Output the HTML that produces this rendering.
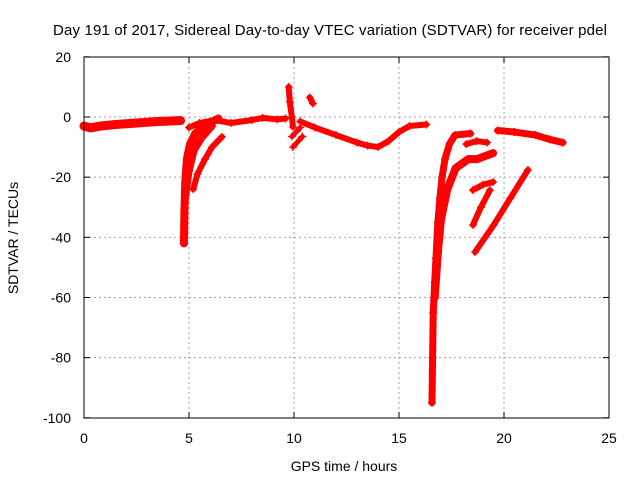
<!DOCTYPE html>
<html><head><meta charset="utf-8"><style>
body{margin:0;background:#fff}
svg{display:block;font-family:"Liberation Sans",sans-serif}
</style></head><body>
<svg id="c" width="640" height="480">
<rect width="640" height="480" fill="#fff"/>
<text x="330" y="35" font-size="15" text-anchor="middle" textLength="554">Day 191 of 2017, Sidereal Day-to-day VTEC variation (SDTVAR) for receiver pdel</text>
<text x="344" y="471" font-size="14" text-anchor="middle">GPS time / hours</text>
<text transform="translate(18,238) rotate(-90)" font-size="14" text-anchor="middle">SDTVAR / TECUs</text>
<g id="grid"></g><g id="marks"></g>
<rect x="84" y="57" width="525" height="361" fill="none" stroke="#000" stroke-width="1"/>
</svg>
<script>
const xTicks=[0,5,10,15,20,25];
const yTicks=[20,0,-20,-40,-60,-80,-100];
const trackBase1=[[0,-3],[0.3,-3.6],[0.8,-3],[1.5,-2.5],[2.5,-2],[3.5,-1.5],[4.6,-1.2]];
const trackBase2=[[5.0,-3.5],[5.5,-2],[6.2,-1],[7,-2],[8,-1],[8.5,-0.3],[9.2,-0.8],[9.6,-0.5]];
const trackDip1=[[4.76,-42],[4.78,-32],[4.82,-22],[4.9,-14],[5.05,-9],[5.3,-5.5],[5.7,-3],[6.4,-0.5]];
const trackDip1b=[[4.85,-26],[5.0,-18],[5.25,-11],[5.6,-7],[6.1,-3]];
const trackDip2=[[5.2,-24],[5.4,-19],[5.76,-14],[6.1,-10],[6.57,-6.6]];
const trackSpike=[[9.75,10],[9.8,5],[9.9,0],[9.95,-3.3]];
const trackSpikeA=[[9.9,-6.5],[10.3,-3.5]];
const trackSpikeB=[[9.95,-10],[10.4,-6.5]];
const trackBlob=[[10.75,6.5],[10.9,4.5]];
const trackMid=[[10.3,-1.5],[11,-3.5],[12,-6],[13,-8.5],[13.5,-9.5],[14,-10],[14.5,-8],[15,-5],[15.5,-3],[16.3,-2.5]];
const trackDeep=[[16.57,-95],[16.6,-80],[16.63,-65],[16.7,-55],[16.76,-47],[16.85,-35],[16.95,-27],[17.05,-20],[17.19,-14],[17.4,-9],[17.67,-6],[18.4,-5.5]];
const trackArc2=[[16.7,-60],[16.85,-45],[17.0,-34],[17.3,-24],[17.7,-17],[18.3,-14],[18.71,-14],[19.48,-12]];
const trackShortA=[[18.52,-24.3],[19.0,-22.5],[19.48,-21.6]];
const trackShortB=[[18.52,-35.9],[18.9,-30],[19.33,-24.3]];
const trackLong=[[18.62,-44.9],[19.5,-36],[20.3,-27],[21.14,-17.6]];
const trackRight=[[19.7,-4.5],[20.5,-5],[21.5,-6],[22.2,-7.5],[22.8,-8.5]];
const trackSmall=[[18.2,-9],[18.7,-8],[19.2,-8.5]];
const tracks=[trackBase1,trackBase2,trackDip1,trackDip1b,trackDip2,trackSpike,trackSpikeA,trackSpikeB,trackBlob,trackMid,trackDeep,trackArc2,trackShortA,trackShortB,trackLong,trackRight,trackSmall];
const widths=[9,6,8,7,6,6,5,5,6,6,7,8,6,6,6,7,6];
const NS="http://www.w3.org/2000/svg";
const X=h=>84+h*21, Y=v=>117-v*3.008;
const grid=document.getElementById('grid'), marks=document.getElementById('marks');
function mk(tag,attrs,parent){const e=document.createElementNS(NS,tag);for(const k in attrs)e.setAttribute(k,attrs[k]);parent.appendChild(e);return e;}
xTicks.forEach(t=>{
  if(t>0&&t<25){const l=mk('line',{x1:X(t),x2:X(t),y1:57,y2:418,stroke:'#a0a0a0','stroke-dasharray':'2,3'},grid);
  
  }
  mk('line',{x1:X(t),x2:X(t),y1:418,y2:412,stroke:'#000'},grid);
  mk('line',{x1:X(t),x2:X(t),y1:57,y2:63,stroke:'#000'},grid);
  const tx=mk('text',{x:X(t),y:443,'font-size':14,'text-anchor':'middle'},grid);tx.textContent=t;
  
  
});
yTicks.forEach(t=>{
  if(t<20&&t>-100){const l=mk('line',{x1:84,x2:609,y1:Y(t),y2:Y(t),stroke:'#a0a0a0','stroke-dasharray':'2,3'},grid);
  
  }
  mk('line',{x1:84,x2:90,y1:Y(t),y2:Y(t),stroke:'#000'},grid);
  mk('line',{x1:609,x2:603,y1:Y(t),y2:Y(t),stroke:'#000'},grid);
  const tx=mk('text',{x:71,y:Y(t)+5,'font-size':14,'text-anchor':'end'},grid);tx.textContent=t;
  
  
});
tracks.forEach((tr,i)=>{
  const pl=mk('polyline',{points:tr.map(p=>X(p[0])+','+Y(p[1])).join(' '),fill:'none',stroke:'#f00','stroke-width':widths[i],'stroke-linejoin':'round','stroke-linecap':'round'},marks);
  
  
  tr.forEach(p=>{
    const g=mk('path',{d:`M${X(p[0])-4},${Y(p[1])}h8M${X(p[0])},${Y(p[1])-4}v8`,stroke:'#f00','stroke-width':1.2},marks);
    
    
  });
});
</script>
</body></html>
